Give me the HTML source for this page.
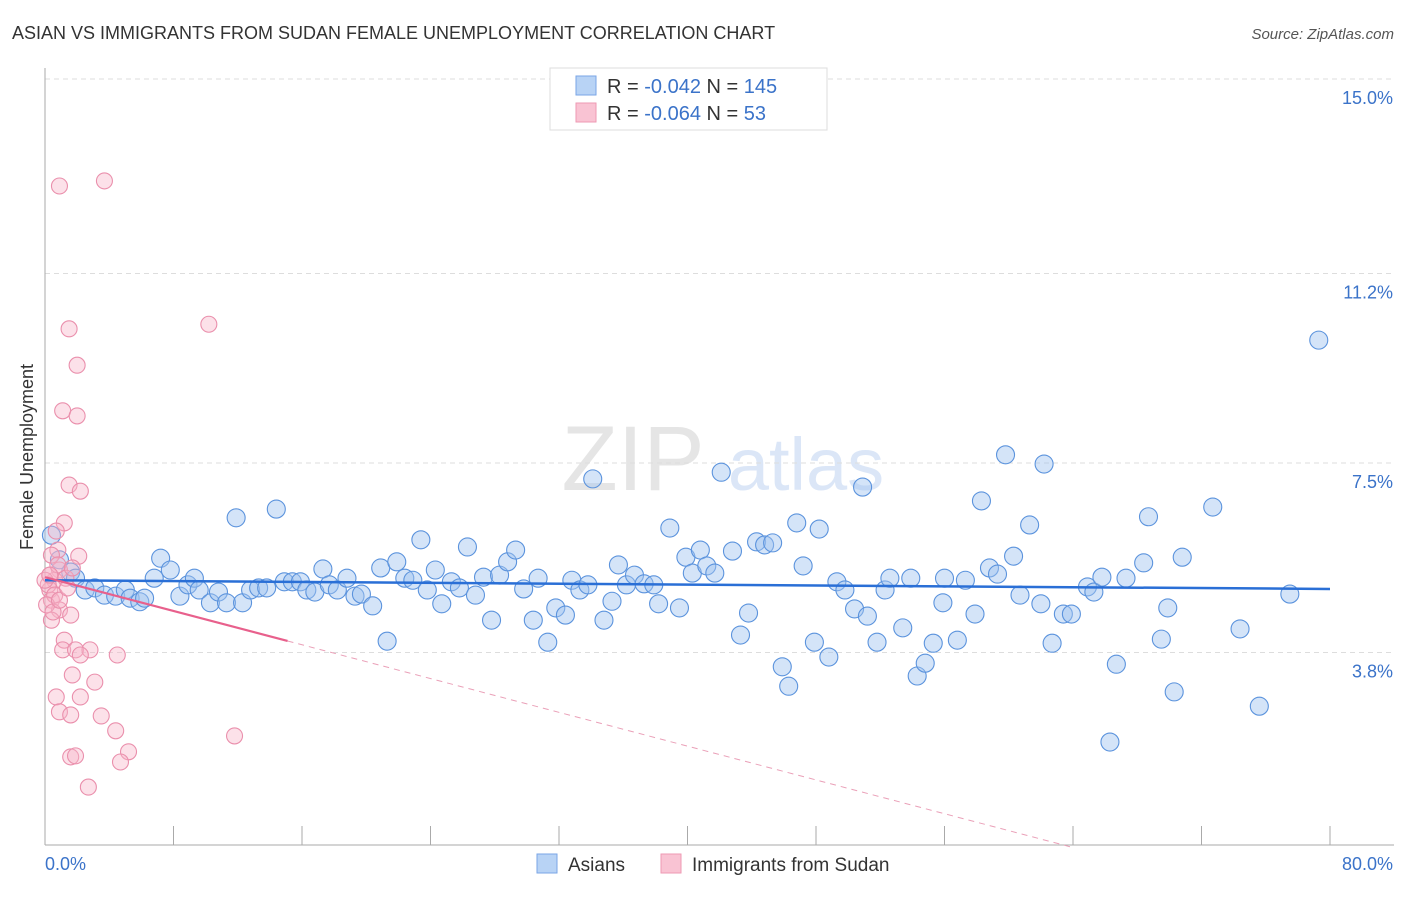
<!DOCTYPE html>
<html><head><meta charset="utf-8"><style>
body{margin:0;background:#fff;font-family:"Liberation Sans",sans-serif}
svg text{font-family:"Liberation Sans",sans-serif}
</style></head><body>
<svg id="chart" width="1406" height="892" xmlns="http://www.w3.org/2000/svg">
<text x="12" y="39" font-size="18" fill="#333">ASIAN VS IMMIGRANTS FROM SUDAN FEMALE UNEMPLOYMENT CORRELATION CHART</text>
<text x="1394" y="39" font-size="15" fill="#555" font-style="italic" text-anchor="end">Source: ZipAtlas.com</text>
<g opacity="0.5">
<text x="633" y="490" font-size="92" font-family="Liberation Serif,serif" fill="#ccc" text-anchor="middle">ZIP</text>
<text x="806" y="490" font-size="74" fill="#b8cff0" text-anchor="middle">atlas</text>
</g>
<g id="grid"></g>
<g id="axes"></g>
<g id="pts"></g>
<g id="trend"></g>
<g>
<rect x="550" y="68" width="277" height="62" fill="#fff" stroke="#ddd"/>
<rect x="576" y="76" width="20" height="19" fill="#b8d3f5" stroke="#7aa6e6"/>
<rect x="576" y="103" width="20" height="19" fill="#f9c3d3" stroke="#ee9ab3"/>
<text x="607" y="93" font-size="20" fill="#333">R = <tspan fill="#3b73c9">-0.042</tspan>   N = <tspan fill="#3b73c9">145</tspan></text>
<text x="607" y="120" font-size="20" fill="#333">R = <tspan fill="#3b73c9">-0.064</tspan>   N = <tspan fill="#3b73c9">  53</tspan></text>
</g>
<text transform="translate(33,457) rotate(-90)" font-size="18" fill="#333" text-anchor="middle">Female Unemployment</text>
<g>
<rect x="537" y="854" width="20" height="19" fill="#b8d3f5" stroke="#7aa6e6"/>
<text x="568" y="871" font-size="19" fill="#333">Asians</text>
<rect x="661" y="854" width="20" height="19" fill="#f9c3d3" stroke="#ee9ab3"/>
<text x="692" y="871" font-size="19" fill="#333">Immigrants from Sudan</text>
</g>
</svg>
<script>
const yTicks=[3.8,7.5,11.2,15.0];
const yTickLabels=["3.8%","7.5%","11.2%","15.0%"];
const xTickLabels=["0.0%","80.0%"];
const asianX=[0.4,0.9,1.6,1.9,2.5,3.1,3.7,4.4,5.0,5.3,5.9,6.2,6.8,7.2,7.8,8.4,8.9,9.3,9.6,10.3,10.8,11.3,11.9,12.3,12.8,13.3,13.8,14.4,14.9,15.4,15.9,16.3,16.8,17.3,17.7,18.2,18.8,19.3,19.7,20.4,20.9,21.3,21.9,22.4,22.9,23.4,23.8,24.3,24.7,25.3,25.8,26.3,26.8,27.3,27.8,28.3,28.8,29.3,29.8,30.4,30.7,31.3,31.8,32.4,32.8,33.3,33.8,34.1,34.8,35.3,35.7,36.2,36.7,37.3,37.9,38.2,38.9,39.5,39.9,40.3,40.8,41.2,41.7,42.1,42.8,43.3,43.8,44.3,44.8,45.3,45.9,46.3,46.8,47.2,47.9,48.2,48.8,49.3,49.8,50.4,50.9,51.2,51.8,52.3,52.6,53.4,53.9,54.3,54.8,55.3,55.9,56.0,56.8,57.3,57.9,58.3,58.8,59.3,59.8,60.3,60.7,61.3,62.0,62.2,62.7,63.4,63.9,64.9,65.3,65.8,66.3,66.7,67.3,68.4,68.7,69.5,69.9,70.3,70.8,72.7,74.4,75.6,77.5,79.3];
const asianY=[6.09,5.61,5.37,5.25,5.02,5.06,4.92,4.90,5.02,4.86,4.79,4.86,5.25,5.64,5.41,4.90,5.12,5.25,5.02,4.77,4.98,4.77,6.43,4.77,5.02,5.06,5.06,6.60,5.18,5.18,5.18,5.02,4.98,5.43,5.12,5.02,5.25,4.90,4.94,4.71,5.45,4.02,5.57,5.25,5.21,6.00,5.02,5.41,4.75,5.18,5.06,5.86,4.92,5.27,4.43,5.31,5.57,5.80,5.04,4.43,5.25,4.00,4.67,4.53,5.21,5.02,5.12,7.19,4.43,4.80,5.51,5.12,5.31,5.14,5.12,4.75,6.23,4.67,5.66,5.35,5.80,5.49,5.35,7.32,5.78,4.14,4.57,5.96,5.90,5.94,3.52,3.14,6.33,5.49,4.00,6.21,3.71,5.18,5.02,4.65,7.03,4.51,4.00,5.02,5.25,4.28,5.25,3.34,3.59,3.98,4.77,5.25,4.04,5.21,4.55,6.76,5.45,5.33,7.66,5.68,4.92,6.29,4.75,7.48,3.98,4.55,4.55,5.08,4.98,5.27,2.05,3.57,5.25,5.55,6.45,4.06,4.67,3.03,5.66,6.64,4.26,2.75,4.94,9.90];
const sudanX=[0.9,3.7,1.5,10.2,2.0,1.1,2.0,1.5,2.2,1.2,0.7,0.8,2.1,0.4,0.9,0.6,0.3,0.4,0.9,1.6,0.4,1.2,1.1,1.9,2.8,2.2,4.5,3.1,1.7,2.2,0.7,0.9,1.6,3.5,4.4,11.8,5.2,1.6,1.9,4.7,2.7,0.3,0.2,0.6,0.1,0.8,1.3,1.7,0.5,0.9,1.4,0.0,0.3];
const sudanY=[12.91,13.01,10.12,10.21,9.41,8.52,8.42,7.07,6.95,6.33,6.17,5.80,5.68,5.70,5.41,5.21,5.02,4.82,4.63,4.53,4.43,4.04,3.85,3.85,3.85,3.75,3.75,3.22,3.36,2.93,2.93,2.64,2.58,2.56,2.27,2.17,1.86,1.76,1.78,1.66,1.17,5.31,5.12,4.92,4.73,5.51,5.25,5.45,4.59,4.82,5.06,5.21,5.31];
const asianTrend=[5.21,5.04];
const sudanTrend=[5.27,-0.0825];
const X0=45,X1=1330,Y0=847,PPY=51.2;
const xs=v=>X0+v/80*(X1-X0);
const ys=v=>Y0-v*PPY;
const NS="http://www.w3.org/2000/svg";
function mk(tag,attrs,parent){const e=document.createElementNS(NS,tag);for(const k in attrs)e.setAttribute(k,attrs[k]);parent.appendChild(e);return e;}
const grid=document.getElementById('grid'),axes=document.getElementById('axes'),pts=document.getElementById('pts'),tr=document.getElementById('trend');
yTicks.forEach((t,i)=>{
 const l=mk('line',{x1:X0,x2:1394,y1:ys(t),y2:ys(t),stroke:'#ddd','stroke-dasharray':'5,4'},grid);
 
 
 const tx=mk('text',{x:1393,y:ys(t)+25,'font-size':18,fill:'#3b73c9','text-anchor':'end'},grid);
 tx.textContent=yTickLabels[i];
 
 
});
const ax=mk('line',{x1:X0,x2:X0,y1:68,y2:Y0-2,stroke:'#aaa'},axes);


const bx=mk('line',{x1:X0,x2:1394,y1:Y0-2,y2:Y0-2,stroke:'#aaa'},axes);


for(let i=1;i<=10;i++){const t=mk('line',{x1:xs(i*8),x2:xs(i*8),y1:826,y2:845,stroke:'#aaa'},axes);
 
 }
[0,80].forEach((v,i)=>{const t=mk('text',{x:i?1393:45,y:870,'font-size':18,fill:'#3b73c9','text-anchor':i?'end':'start'},axes);t.textContent=xTickLabels[i];
 
 });
asianX.forEach((x,i)=>{const c=mk('circle',{cx:xs(x),cy:ys(asianY[i]),r:9,fill:'rgba(160,196,240,0.45)',stroke:'#5b93dd','stroke-width':1.1},pts);
 
 });
sudanX.forEach((x,i)=>{const c=mk('circle',{cx:xs(x),cy:ys(sudanY[i]),r:8,fill:'rgba(248,180,200,0.4)',stroke:'#ea8fac','stroke-width':1.1},pts);
 
 });
const bl=mk('line',{x1:xs(0),y1:ys(asianTrend[0]),x2:xs(80),y2:ys(asianTrend[1]),stroke:'#2a6fd6','stroke-width':2.5},tr);


const xe=15.1,xz=-sudanTrend[0]/sudanTrend[1];
const pl=mk('line',{x1:xs(0),y1:ys(sudanTrend[0]),x2:xs(xe),y2:ys(sudanTrend[0]+sudanTrend[1]*xe),stroke:'#e8608c','stroke-width':2.2},tr);


const pd=mk('line',{x1:xs(xe),y1:ys(sudanTrend[0]+sudanTrend[1]*xe),x2:xs(xz),y2:ys(0),stroke:'#eaa0b8','stroke-width':1,'stroke-dasharray':'6,5'},tr);


</script>
</body></html>
